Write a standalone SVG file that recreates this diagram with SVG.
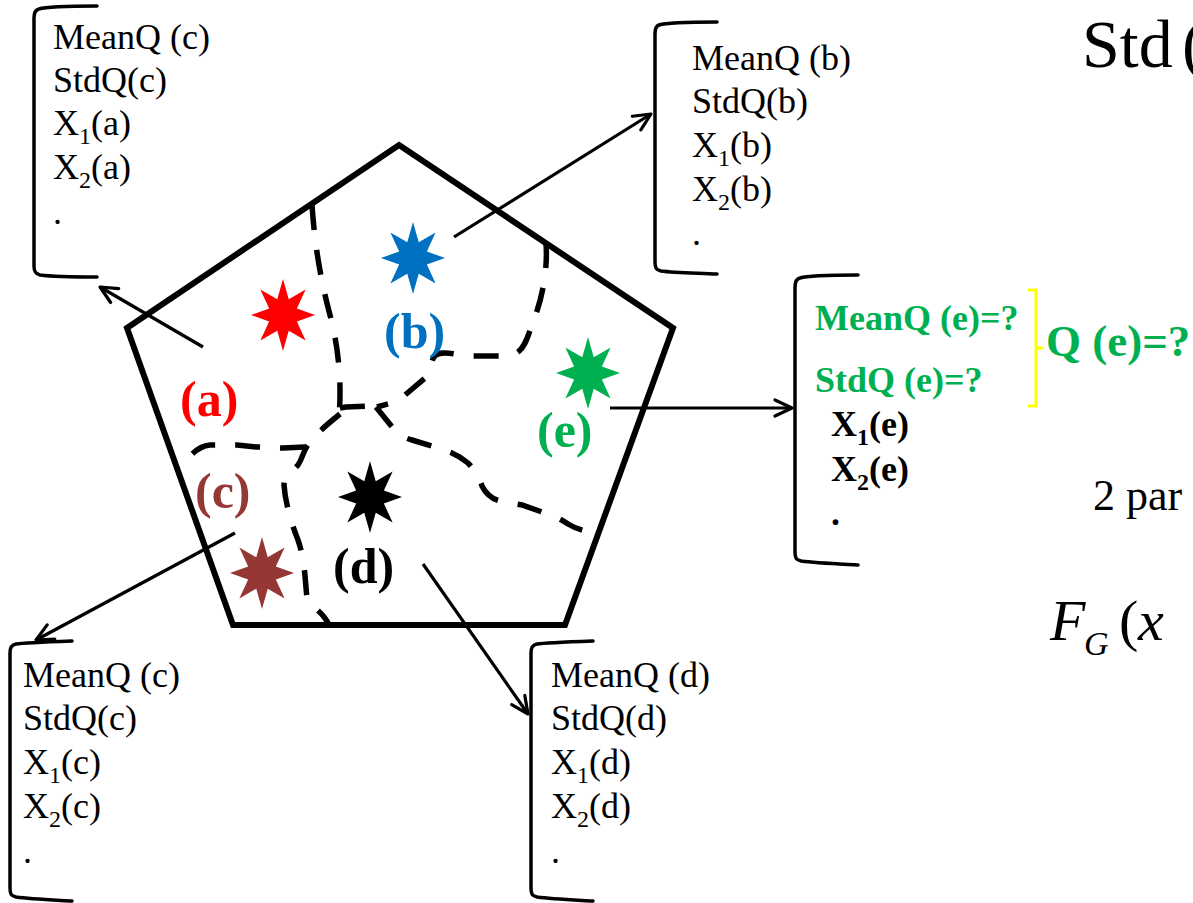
<svg xmlns="http://www.w3.org/2000/svg" width="1193" height="903" viewBox="0 0 1193 903">
<style>
.t{font-family:"Liberation Serif","Times New Roman",serif;font-size:36px;fill:#000}
.b{font-weight:bold}
.g{font-family:"Liberation Serif","Times New Roman",serif;font-weight:bold;fill:#00B050;font-size:36px}
.lbl{font-family:"Liberation Serif","Times New Roman",serif;font-weight:bold;font-size:50px}
.br{fill:none;stroke:#000;stroke-width:3.5;stroke-linecap:round}
.dash{fill:none;stroke:#000;stroke-width:5.5;stroke-dasharray:25 20}
.arr{fill:none;stroke:#000;stroke-width:3.2;marker-end:url(#ah)}
</style>
<defs>
<marker id="ah" markerWidth="24" markerHeight="24" refX="18" refY="9" orient="auto" markerUnits="userSpaceOnUse" viewBox="0 0 24 18" overflow="visible">
<path d="M1,1 L18,9 L1,17" fill="none" stroke="#000" stroke-width="3.2" stroke-linecap="round" stroke-linejoin="round"/>
</marker>
<path id="star" d="M0,-36 L5.74,-15.71 L22.63,-25.46 L13.86,-6.51 L32,0 L13.86,6.51 L22.63,25.46 L5.74,15.71 L0,36 L-5.74,15.71 L-22.63,25.46 L-13.86,6.51 L-32,0 L-13.86,-6.51 L-22.63,-25.46 L-5.74,-15.71 Z"/>
</defs>
<rect width="1193" height="903" fill="#fff"/>

<g id="region-map">
<polygon points="399,145 673,328 565,625 233,625 127,328" fill="none" stroke="#000" stroke-width="6" stroke-linejoin="miter"/>
<g id="boundaries">
<path class="dash" d="M312,205 C315,250 322,285 330,315 C338,345 342,380 339,418"/>
<path class="dash" d="M340,408 L346,407 L374,406"/>
<path class="dash" d="M376,407 L393,428 Q400,437 412,440 L435,447 Q455,452 468,463 Q478,473 482,486 Q488,498 500,501 L522,505 L545,513 Q560,518 568,524 Q578,530 590,532"/>
<path class="dash" d="M546,243 C548,270 542,300 533,322 C527,338 525,352 510,356 L470,356 C455,355 440,349 434,357 C430,362 432,372 425,378 L398,401 L377,407"/>
<path class="dash" d="M340,414 C330,422 320,430 310,442 C303,450 303,458 298,465 C292,472 284,476 284,485 C285,500 290,520 298,540 C305,560 305,580 307,598 C310,607 322,610 329,625"/>
<path class="dash" d="M305,447 L283,448 L257,447 L237,445 L210,445 C200,446 192,453 187,460 L177,468"/>
</g>
</g>

<g id="site-a"><use href="#star" x="283" y="315" fill="#FF0000"/><text class="lbl" x="180" y="416" fill="#FF0000">(a)</text></g>
<g id="site-b"><use href="#star" x="413" y="258" fill="#0070C0"/><text class="lbl" x="384" y="348" fill="#0070C0">(b)</text></g>
<g id="site-c"><use href="#star" x="262" y="573" fill="#953735"/><text class="lbl" x="195" y="508" fill="#953735">(c)</text></g>
<g id="site-d"><use href="#star" x="370" y="497" fill="#000"/><text class="lbl" x="333" y="583" fill="#000">(d)</text></g>
<g id="site-e"><use href="#star" x="588" y="373" fill="#00B050"/><text class="lbl" x="537" y="447" fill="#00B050">(e)</text></g>

<g id="connectors">
<line class="arr" x1="203" y1="347" x2="100" y2="287"/>
<line class="arr" x1="454" y1="237" x2="651" y2="114"/>
<line class="arr" x1="610" y1="408" x2="792" y2="408"/>
<line class="arr" x1="235" y1="533" x2="36" y2="640"/>
<line class="arr" x1="423" y1="564" x2="528" y2="714"/>
</g>

<g id="box-a">
<path class="br" d="M97,6 C70,6 45,7 39,9 C35,10 34,13 34,18 L34,266 C34,271 35,274 40,275 C55,277 80,277 97,277"/>
<text class="t" x="53" y="49">MeanQ (c)</text>
<text class="t" x="53" y="92">StdQ(c)</text>
<text class="t" x="53" y="135">X<tspan font-size="24" dy="9">1</tspan><tspan dy="-9">(a)</tspan></text>
<text class="t" x="53" y="179">X<tspan font-size="24" dy="9">2</tspan><tspan dy="-9">(a)</tspan></text>
<text class="t" x="53" y="224">.</text>
</g>

<g id="box-b">
<path class="br" d="M717,22 C690,22 665,23 659,25 C656,26 655,29 655,34 L655,262 C655,268 656,270 661,271 C676,273 700,273 717,274"/>
<text class="t" x="692" y="70">MeanQ (b)</text>
<text class="t" x="692" y="113">StdQ(b)</text>
<text class="t" x="692" y="157">X<tspan font-size="24" dy="9">1</tspan><tspan dy="-9">(b)</tspan></text>
<text class="t" x="692" y="201">X<tspan font-size="24" dy="9">2</tspan><tspan dy="-9">(b)</tspan></text>
<text class="t" x="692" y="245">.</text>
</g>

<g id="box-e">
<path class="br" d="M858,275 C830,275 806,276 800,278 C796,279 795,282 795,287 L795,552 C795,558 796,560 801,561 C816,563 840,564 858,565"/>
<text class="g" x="815" y="330">MeanQ (e)=?</text>
<text class="g" x="815" y="392">StdQ (e)=?</text>
<text class="t b" x="831" y="436">X<tspan font-size="24" dy="9">1</tspan><tspan dy="-9">(e)</tspan></text>
<text class="t b" x="831" y="481">X<tspan font-size="24" dy="9">2</tspan><tspan dy="-9">(e)</tspan></text>
<text class="t b" x="831" y="525">.</text>
</g>

<g id="q-brace">
<path d="M1028,290 L1036,290 L1036,406 L1028,406 M1036,348 L1043,348" fill="none" stroke="#FFFF00" stroke-width="3"/>
<text class="g" x="1046" y="356" style="font-size:45px">Q (e)=?</text>
</g>

<g id="box-c">
<path class="br" d="M72,641 C45,642 22,643 16,644 C11,645 10,648 10,653 L10,888 C10,894 11,896 16,897 C31,899 55,900 72,901"/>
<text class="t" x="23" y="687">MeanQ (c)</text>
<text class="t" x="23" y="730">StdQ(c)</text>
<text class="t" x="23" y="774">X<tspan font-size="24" dy="9">1</tspan><tspan dy="-9">(c)</tspan></text>
<text class="t" x="23" y="818">X<tspan font-size="24" dy="9">2</tspan><tspan dy="-9">(c)</tspan></text>
<text class="t" x="23" y="863">.</text>
</g>

<g id="box-d">
<path class="br" d="M593,641 C566,642 543,643 537,644 C532,645 531,648 531,653 L531,888 C531,894 532,896 537,897 C552,899 576,900 593,901"/>
<text class="t" x="551" y="687">MeanQ (d)</text>
<text class="t" x="551" y="730">StdQ(d)</text>
<text class="t" x="551" y="774">X<tspan font-size="24" dy="9">1</tspan><tspan dy="-9">(d)</tspan></text>
<text class="t" x="551" y="818">X<tspan font-size="24" dy="9">2</tspan><tspan dy="-9">(d)</tspan></text>
<text class="t" x="551" y="863">.</text>
</g>

<g id="side-text">
<text class="t" x="1082" y="67" style="font-size:68px">Std<tspan x="1182">(</tspan></text>
<text class="t" x="1093" y="510" style="font-size:44px">2 par</text>
<text class="t" x="1050" y="640" style="font-size:58px;font-style:italic">F<tspan x="1084" y="655" style="font-size:34px">G</tspan><tspan x="1119" y="640" style="font-style:normal">(</tspan><tspan x="1138" y="640">x</tspan></text>
</g>
</svg>
